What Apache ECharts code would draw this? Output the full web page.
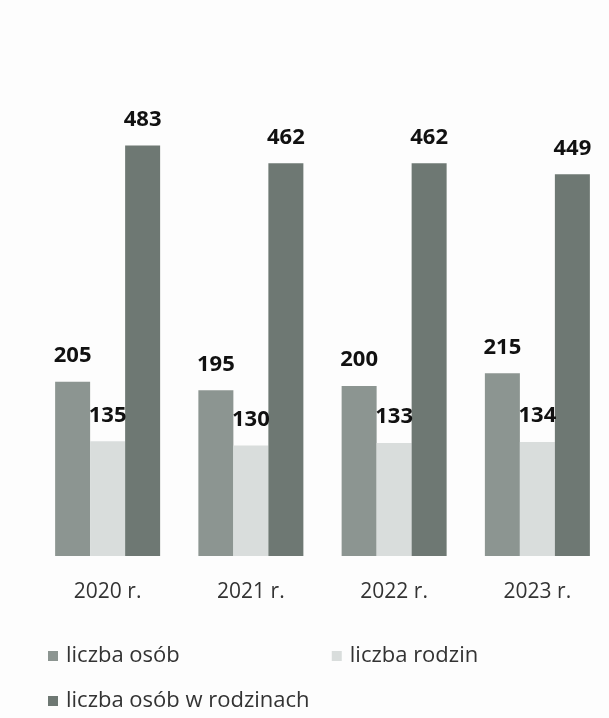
<!DOCTYPE html>
<html>
<head>
<meta charset="utf-8">
<script src="https://cdn.jsdelivr.net/npm/echarts@6/dist/echarts.min.js"></script>
<style>
  html, body { margin: 0; padding: 0; background: #fff; }
  #chart { width: 609px; height: 718px; }
</style>
</head>
<body>
<div id="chart"></div>
<script>
// dane z wykresu
const years = ['2020 r.', '2021 r.', '2022 r.', '2023 r.'];
const liczbaOsob = [205, 195, 200, 215];
const liczbaRodzin = [135, 130, 133, 134];
const osobWRodzinach = [483, 462, 462, 449];

const chart = echarts.init(document.getElementById('chart'));

const valueLabel = {
  show: true,
  position: 'top',
  distance: 15,
  color: '#111',
  fontFamily: 'Open Sans',
  fontWeight: 'bold',
  fontSize: 22
};

const legendText = {
  color: '#333',
  fontFamily: 'Open Sans',
  fontSize: 22,
  padding: [0, 0, 0, 3]
};

chart.setOption({
  backgroundColor: '#fdfdfd',
  animation: false,
  grid: { left: 36, right: 0, top: 131, bottom: 162 },
  xAxis: {
    type: 'category',
    data: years,
    axisLine: { show: false },
    axisTick: { show: false },
    axisLabel: {
      color: '#333',
      fontFamily: 'Open Sans',
      fontSize: 21,
      margin: 26
    }
  },
  yAxis: {
    type: 'value',
    min: 0,
    max: 500,
    show: false,
    splitLine: { show: false }
  },
  legend: [
    {
      data: ['liczba osób', 'liczba rodzin'],
      left: 43,
      top: 640,
      icon: 'rect',
      itemWidth: 10,
      itemHeight: 10,
      itemGap: 152,
      textStyle: legendText
    },
    {
      data: ['liczba osób w rodzinach'],
      left: 43,
      top: 685,
      icon: 'rect',
      itemWidth: 10,
      itemHeight: 10,
      textStyle: legendText
    }
  ],
  series: [
    {
      name: 'liczba osób',
      type: 'bar',
      data: liczbaOsob,
      barWidth: 35,
      barGap: '0%',
      itemStyle: { color: '#8c9591' },
      label: valueLabel
    },
    {
      name: 'liczba rodzin',
      type: 'bar',
      data: liczbaRodzin,
      barWidth: 35,
      barGap: '0%',
      itemStyle: { color: '#d9dddc' },
      label: valueLabel
    },
    {
      name: 'liczba osób w rodzinach',
      type: 'bar',
      data: osobWRodzinach,
      barWidth: 35,
      barGap: '0%',
      itemStyle: { color: '#6e7873' },
      label: valueLabel
    }
  ]
});
</script>
</body>
</html>
